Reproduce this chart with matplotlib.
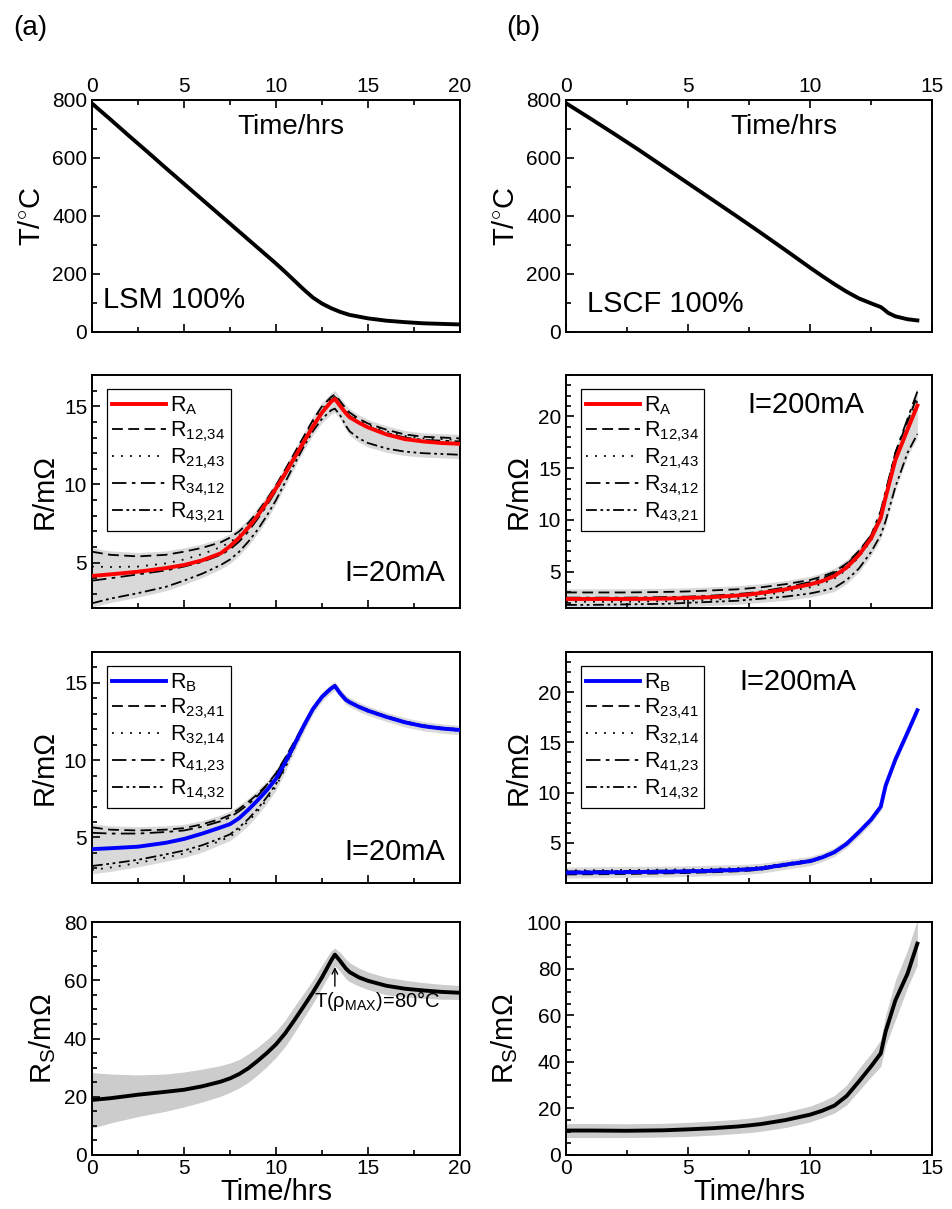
import numpy as np
import matplotlib
matplotlib.use("Agg")
from matplotlib import pyplot as plt
from matplotlib.ticker import MultipleLocator

plt.rcParams['font.family'] = 'Liberation Sans'
plt.rcParams['mathtext.fontset'] = 'custom'
plt.rcParams['mathtext.rm'] = 'Liberation Sans'
plt.rcParams['mathtext.it'] = 'Liberation Sans:italic'
plt.rcParams['axes.linewidth'] = 1.4

# ---- data ----
# (a) LSM 100%
t_lsm = [0, 1, 2, 3, 4, 5, 6, 7, 8, 9, 10, 10.5, 11, 11.5, 12, 12.5, 13, 13.5, 14, 15, 16, 17, 18, 19, 20]
T_lsm = [788, 733, 677, 622, 566, 511, 456, 401, 346, 291, 236, 207, 177, 147, 119, 98, 82, 69, 59, 47, 39, 34, 30, 28, 26]

t_a = [0, 1, 2.5, 4, 5, 6, 7, 7.5, 8, 8.5, 9, 9.5, 10, 10.5, 11, 11.5, 12, 12.5, 13, 13.2, 13.5, 13.8, 14, 14.5, 15, 16, 17, 18, 19, 20]
RA_lsm = [4.15, 4.25, 4.42, 4.65, 4.85, 5.15, 5.6, 6.05, 6.6, 7.25, 8.0, 8.85, 9.75, 10.7, 11.7, 12.7, 13.7, 14.6, 15.3, 15.47, 15.0, 14.55, 14.3, 13.95, 13.65, 13.2, 12.9, 12.75, 12.65, 12.6]
R1234_lsm = [5.7, 5.5, 5.4, 5.5, 5.7, 5.95, 6.3, 6.6, 7.0, 7.55, 8.25, 9.05, 9.95, 10.95, 12.0, 13.05, 14.1, 15.0, 15.6, 15.75, 15.3, 14.85, 14.6, 14.2, 13.9, 13.5, 13.2, 13.05, 13.0, 12.95]
R2143_lsm = [4.75, 4.72, 4.75, 4.95, 5.2, 5.55, 6.0, 6.3, 6.75, 7.35, 8.1, 8.9, 9.8, 10.8, 11.8, 12.85, 13.9, 14.8, 15.5, 15.65, 15.2, 14.75, 14.5, 14.1, 13.8, 13.4, 13.1, 12.95, 12.9, 12.85]
R3412_lsm = [3.85, 4.0, 4.25, 4.5, 4.75, 5.05, 5.5, 5.85, 6.35, 7.0, 7.8, 8.65, 9.6, 10.6, 11.6, 12.6, 13.6, 14.6, 15.4, 15.6, 15.1, 14.65, 14.4, 14.0, 13.7, 13.3, 13.0, 12.85, 12.8, 12.75]
R4321_lsm = [2.4, 2.7, 3.05, 3.45, 3.85, 4.3, 4.85, 5.2, 5.7, 6.35, 7.1, 8.0, 9.0, 10.15, 11.3, 12.4, 13.4, 14.2, 14.75, 14.85, 14.4, 13.75, 13.4, 12.95, 12.65, 12.3, 12.1, 12.0, 11.95, 11.9]

RB_lsm = [4.24, 4.3, 4.4, 4.65, 4.9, 5.25, 5.65, 5.86, 6.25, 6.8, 7.4, 8.05, 8.8, 9.85, 11.0, 12.2, 13.3, 14.1, 14.65, 14.8, 14.3, 13.9, 13.75, 13.45, 13.2, 12.8, 12.45, 12.2, 12.05, 11.95]
R2341_lsm = [5.65, 5.5, 5.45, 5.5, 5.6, 5.85, 6.2, 6.45, 6.85, 7.3, 7.8, 8.4, 9.15, 10.15, 11.2, 12.3, 13.35, 14.15, 14.7, 14.85, 14.35, 13.95, 13.8, 13.5, 13.25, 12.85, 12.5, 12.25, 12.1, 12.0]
R3214_lsm = [2.9, 3.05, 3.35, 3.7, 3.95, 4.3, 4.8, 5.05, 5.5, 6.05, 6.7, 7.45, 8.3, 9.5, 10.8, 12.05, 13.2, 14.05, 14.6, 14.78, 14.3, 13.85, 13.7, 13.4, 13.15, 12.75, 12.4, 12.15, 12.0, 11.9]
R4123_lsm = [5.3, 5.25, 5.25, 5.35, 5.45, 5.7, 6.05, 6.3, 6.7, 7.15, 7.7, 8.35, 9.1, 10.1, 11.15, 12.25, 13.35, 14.15, 14.7, 14.85, 14.35, 13.95, 13.8, 13.5, 13.25, 12.85, 12.5, 12.25, 12.1, 12.0]
R1432_lsm = [3.15, 3.3, 3.55, 3.9, 4.15, 4.5, 4.95, 5.2, 5.65, 6.2, 6.85, 7.6, 8.45, 9.6, 10.9, 12.1, 13.25, 14.1, 14.6, 14.8, 14.3, 13.85, 13.7, 13.45, 13.2, 12.8, 12.45, 12.2, 12.05, 11.95]

Rs_lsm = [18.9, 19.5, 20.7, 21.7, 22.4, 23.6, 25.2, 26.3, 27.8, 29.8, 32.3, 35.0, 38.0, 41.8, 46.3, 51.0, 55.8, 61.0, 66.8, 68.8, 66.5, 64.0, 62.8, 61.0, 59.8, 58.1, 57.1, 56.5, 56.0, 55.7]
Rs_lsm_lo = [9.2, 11.0, 13.2, 15.0, 16.5, 18.2, 20.2, 21.5, 23.0, 25.0, 27.5, 30.3, 33.5, 37.3, 42.0, 47.0, 52.0, 57.5, 63.0, 64.8, 63.0, 60.5, 59.5, 58.0, 56.8, 55.0, 54.3, 53.8, 53.5, 53.4]
Rs_lsm_hi = [28.3, 27.8, 27.5, 27.8, 28.5, 29.5, 30.7, 31.6, 32.8, 34.8, 37.0, 39.6, 42.5, 46.3, 51.0, 55.5, 60.0, 65.3, 70.2, 71.0, 69.5, 67.2, 66.0, 64.2, 62.8, 61.0, 60.0, 59.2, 58.6, 58.2]

# (b) LSCF 100%
t_lscf = [0, 1, 2, 3, 4, 5, 6, 7, 8, 9, 10, 10.5, 11, 11.5, 12, 12.5, 12.9, 13.0, 13.2, 13.5, 14, 14.4]
T_lscf = [789, 736, 682, 627, 570, 513, 456, 399, 341, 282, 222, 193, 165, 139, 116, 99, 86, 80, 66, 54, 44, 40]

t_c = [0, 1, 2.5, 4, 5, 6, 7, 7.5, 8, 9, 10, 10.5, 11, 11.5, 12, 12.5, 12.9, 13.1, 13.5, 14, 14.4]
RA_lscf = [2.37, 2.37, 2.37, 2.4, 2.47, 2.55, 2.7, 2.8, 2.95, 3.3, 3.78, 4.1, 4.6, 5.4, 6.6, 8.2, 10.2, 12.2, 15.8, 18.75, 21.05]
R1234_lscf = [3.0, 3.0, 3.0, 3.05, 3.1, 3.2, 3.3, 3.4, 3.5, 3.8, 4.2, 4.55, 5.0, 5.8, 7.0, 8.5, 10.4, 12.5, 16.5, 19.5, 22.0]
R2143_lscf = [2.1, 2.1, 2.1, 2.15, 2.2, 2.3, 2.45, 2.55, 2.7, 3.05, 3.5, 3.85, 4.35, 5.2, 6.4, 8.0, 10.0, 12.0, 15.9, 19.0, 21.5]
R3412_lscf = [2.5, 2.5, 2.5, 2.55, 2.6, 2.7, 2.85, 2.95, 3.1, 3.5, 4.0, 4.35, 4.85, 5.7, 6.9, 8.5, 10.9, 12.8, 16.5, 19.8, 22.4]
R4321_lscf = [1.8, 1.8, 1.85, 1.9, 2.0, 2.1, 2.2, 2.3, 2.4, 2.6, 2.9, 3.15, 3.45, 4.2, 5.3, 6.9, 8.55, 9.9, 13.2, 16.5, 18.3]

RB_lscf = [2.03, 2.05, 2.08, 2.12, 2.16, 2.22, 2.3, 2.36, 2.45, 2.83, 3.18, 3.55, 4.07, 4.9, 6.06, 7.3, 8.6, 10.7, 13.3, 16.0, 18.2]
R2341_lscf = [1.85, 1.87, 1.9, 1.95, 2.0, 2.07, 2.16, 2.23, 2.33, 2.72, 3.08, 3.47, 4.0, 4.85, 6.0, 7.25, 8.55, 10.65, 13.25, 15.95, 18.15]
R3214_lscf = [2.25, 2.27, 2.3, 2.33, 2.36, 2.42, 2.48, 2.53, 2.62, 2.95, 3.3, 3.65, 4.15, 4.95, 6.1, 7.35, 8.65, 10.75, 13.35, 16.05, 18.25]
R4123_lscf = [2.15, 2.17, 2.2, 2.23, 2.26, 2.32, 2.4, 2.45, 2.55, 2.9, 3.25, 3.6, 4.1, 4.92, 6.08, 7.32, 8.62, 10.72, 13.32, 16.02, 18.22]
R1432_lscf = [1.95, 1.97, 2.0, 2.04, 2.08, 2.14, 2.22, 2.28, 2.38, 2.76, 3.12, 3.5, 4.03, 4.87, 6.03, 7.27, 8.57, 10.67, 13.27, 15.97, 18.17]

Rs_lscf = [10.5, 10.5, 10.4, 10.6, 11.0, 11.5, 12.2, 12.7, 13.3, 15.0, 17.3, 19.0, 21.2, 25.3, 31.5, 38.0, 43.6, 53.0, 66.4, 77.9, 90.7]
Rs_lscf_lo = [7.5, 7.5, 7.5, 7.7, 8.0, 8.5, 9.2, 9.6, 10.2, 11.8, 14.2, 16.0, 18.0, 21.5, 27.5, 33.5, 38.0, 47.0, 58.0, 72.0, 81.5]
Rs_lscf_hi = [13.5, 13.5, 13.4, 13.6, 14.0, 14.6, 15.3, 15.8, 16.5, 18.4, 21.0, 23.0, 25.5, 30.0, 37.0, 43.5, 49.5, 60.0, 75.0, 88.0, 101.0]

labels_A = ['R$_\\mathrm{A}$', 'R$_\\mathrm{12{,}34}$', 'R$_\\mathrm{21{,}43}$', 'R$_\\mathrm{34{,}12}$', 'R$_\\mathrm{43{,}21}$']
labels_B = ['R$_\\mathrm{B}$', 'R$_\\mathrm{23{,}41}$', 'R$_\\mathrm{32{,}14}$', 'R$_\\mathrm{41{,}23}$', 'R$_\\mathrm{14{,}32}$']

styles = [(0, (6, 3)), (0, (1, 4)), (0, (8, 3, 2, 3)), (0, (6, 2, 1.5, 2, 1.5, 2))]

W, H = 953, 1209
fig = plt.figure(figsize=(W / 100, H / 100), dpi=100)


def make_axes(x0, x1, y0, y1):
    return fig.add_axes([x0 / W, 1 - y1 / H, (x1 - x0) / W, (y1 - y0) / H])


def style_axes(ax, xmax, ymin, ymax, ymaj, ymin_step, top=False):
    ax.set_xlim(0, xmax)
    ax.set_ylim(ymin, ymax)
    ax.xaxis.set_major_locator(MultipleLocator(5))
    ax.xaxis.set_minor_locator(MultipleLocator(2.5))
    ax.yaxis.set_major_locator(MultipleLocator(ymaj))
    ax.yaxis.set_minor_locator(MultipleLocator(ymin_step))
    ax.tick_params(which='both', direction='in', right=False, top=top, labelsize=15, width=1.2)
    ax.tick_params(which='major', length=6)
    ax.tick_params(which='minor', length=3.5)


def band(ax, t, curves, pad, color):
    arr = np.array(curves)
    ax.fill_between(t, arr.min(axis=0) - pad, arr.max(axis=0) + pad, color=color, lw=0, zorder=1)


cols = [
    dict(x0=92, x1=460, xmax=20, t_T=t_lsm, T=T_lsm, name='LSM 100%', name_x=0.03, name_y=0.14,
         t=t_a, RA=[RA_lsm, R1234_lsm, R2143_lsm, R3412_lsm, R4321_lsm],
         RB=[RB_lsm, R2341_lsm, R3214_lsm, R4123_lsm, R1432_lsm],
         Rs=Rs_lsm, lo=Rs_lsm_lo, hi=Rs_lsm_hi, rlim=(2.1, 17), rmaj=5, bmin=2.05, smax=80,
         cur='I=20mA', tag='(a)', tx=30),
    dict(x0=566, x1=932, xmax=15, t_T=t_lscf, T=T_lscf, name='LSCF 100%', name_x=0.057, name_y=0.12,
         t=t_c, RA=[RA_lscf, R1234_lscf, R2143_lscf, R3412_lscf, R4321_lscf],
         RB=[RB_lscf, R2341_lscf, R3214_lscf, R4123_lscf, R1432_lscf],
         Rs=Rs_lscf, lo=Rs_lscf_lo, hi=Rs_lscf_hi, rlim=(1.5, 24), rmaj=5, bmin=1.0, smax=100,
         cur='I=200mA', tag='(b)', tx=523),
]

rows = [(100, 332), (375, 608), (652, 883), (922, 1155)]

for c in cols:
    fig.text(c['tx'] / W, 1 - 28 / H, c['tag'], fontsize=20, ha='center', va='center')

    # temperature
    ax = make_axes(c['x0'], c['x1'], *rows[0])
    ax.plot(c['t_T'], c['T'], color='black', lw=2.8, zorder=3)
    style_axes(ax, c['xmax'], 0, 800, 200, 100, top=True)
    ax.tick_params(axis='x', which='both', labeltop=True, labelbottom=False, pad=3)
    ax.set_ylabel('T/$^{\\circ}$C', fontsize=21, labelpad=4)
    ax.text(0.54 if c['xmax'] == 20 else 0.596, 0.885, 'Time/hrs', transform=ax.transAxes,
            fontsize=20, ha='center', va='center')
    ax.text(c['name_x'], c['name_y'], c['name'], transform=ax.transAxes, fontsize=21, ha='left', va='center')

    # R_A and R_B panels
    for r, key, col, labels in [(1, 'RA', 'red', labels_A), (2, 'RB', 'blue', labels_B)]:
        ax = make_axes(c['x0'], c['x1'], *rows[r])
        curves = c[key]
        pad = 0.25 if c['xmax'] == 20 else 0.35
        band(ax, c['t'], curves, pad, '#d9d9d9')
        handles = []
        for y, ls in zip(curves[1:], styles):
            h, = ax.plot(c['t'], y, color='black', lw=1.3, ls=ls, zorder=3)
            handles.append(h)
        hm, = ax.plot(c['t'], curves[0], color=col, lw=2.8, zorder=4)
        handles = [hm] + handles
        ylo = c['rlim'][0] if r == 1 else c['bmin']
        style_axes(ax, c['xmax'], ylo, c['rlim'][1], c['rmaj'], 1)
        ax.tick_params(axis='x', labelbottom=False)
        ax.set_ylabel('R/mΩ', fontsize=21, labelpad=4)
        leg = ax.legend(handles, labels, loc='upper left', bbox_to_anchor=(0.04, 0.94),
                        fontsize=15.5, handlelength=2.5, handletextpad=0.2, labelspacing=0.12,
                        borderpad=0.25, borderaxespad=0, frameon=True, fancybox=False,
                        edgecolor='black', framealpha=1)
        leg.get_frame().set_linewidth(0.9)
        if c['xmax'] == 20:
            ax.text(0.96, 0.15 if r == 1 else 0.135, c['cur'], transform=ax.transAxes,
                    fontsize=21, ha='right', va='center')
        else:
            ax.text(0.656 if r == 1 else 0.634, 0.872, c['cur'], transform=ax.transAxes,
                    fontsize=21, ha='center', va='center')

    # sheet resistance
    ax = make_axes(c['x0'], c['x1'], *rows[3])
    ax.fill_between(c['t'], c['lo'], c['hi'], color='#cccccc', lw=0, zorder=1)
    ax.plot(c['t'], c['Rs'], color='black', lw=2.8, zorder=3)
    style_axes(ax, c['xmax'], 0, c['smax'], 20, 5)
    ax.tick_params(axis='x', pad=3)
    ax.set_xlabel('Time/hrs', fontsize=21, labelpad=0)
    ax.set_ylabel('R$_\\mathrm{S}$/mΩ', fontsize=21, labelpad=4)
    if c['xmax'] == 20:
        ax.annotate('', xy=(13.2, 65.5), xytext=(13.2, 57),
                    arrowprops=dict(arrowstyle='->', lw=1, color='black'))
        ax.text(12.05, 53, 'T(ρ$_\\mathrm{MAX}$)=80°C', fontsize=14.5, ha='left', va='center')

fig.savefig('out.png', dpi=100)
